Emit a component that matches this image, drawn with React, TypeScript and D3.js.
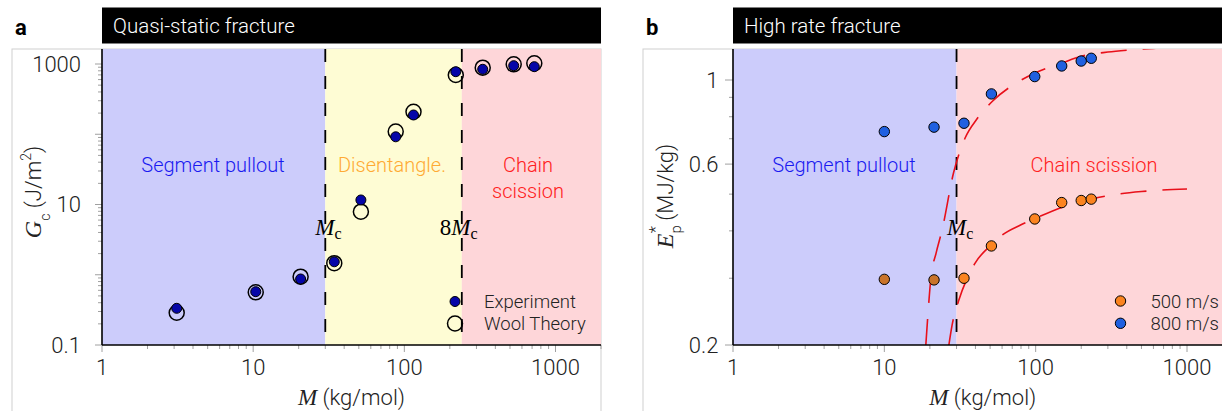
import React from 'react';
import * as d3 from 'd3';

// ---------- data ----------
const Mc = 30;
const regionBoundsA = [1, 30, 240, 2000];
const regionNamesA = ['Segment pullout', 'Disentangle.', 'Chain\nscission'];
const regionBoundsB = [1, 30, 2000];
const regionNamesB = ['Segment pullout', 'Chain scission'];

const massA = [3.12, 10.4, 20.6, 34.4, 51.6, 87.7, 115, 219, 330, 529, 724];
const gcExperiment = [0.333, 0.574, 0.87, 1.53, 11.6, 92, 188, 777, 841, 946, 916];
const gcWoolTheory = [0.288, 0.562, 0.938, 1.46, 7.9, 109, 209, 697, 886, 990, 1023];

const massB = [10, 21.3, 33.6, 51, 98.6, 148.6, 200, 233];
const ep500 = [0.298, 0.297, 0.3, 0.365, 0.43, 0.475, 0.481, 0.485];
const ep800 = [0.731, 0.751, 0.769, 0.919, 1.021, 1.089, 1.122, 1.141];

// fitted curves
const fit500M = [26.7, 28, 31, 35, 40, 51, 60, 80, 100, 150, 233, 350, 500, 1000];
const fit500E = [0.2, 0.225, 0.262, 0.298, 0.33, 0.368, 0.39, 0.415, 0.432, 0.462, 0.485, 0.5, 0.508, 0.516];
const fit800M = [18.8, 19.4, 20.3, 22, 24, 28.7, 34, 41, 52, 77, 100, 150, 200, 300, 420, 600, 1000];
const fit800E = [0.2, 0.24, 0.3, 0.35, 0.4, 0.57, 0.7, 0.79, 0.88, 0.99, 1.045, 1.11, 1.155, 1.185, 1.2, 1.212, 1.225];

const xTickLabels = [1, 10, 100, 1000];
const yTickLabelsA = [0.1, 10, 1000];
const yMajorA = [0.1, 1, 10, 100, 1000];
const yTickLabelsB = [0.2, 0.6, 1];

const legendA = ['Experiment', 'Wool Theory'];
const legendB = ['500 m/s', '800 m/s'];

// ---------- styles ----------
const SANS = 'Roboto, "Liberation Sans", Arial, sans-serif';
const LIGHT = 300;
const SERIF = '"Liberation Serif", "Times New Roman", serif';
const regionFillsA = ['#ccccfb', '#fefcd4', '#fed6d9'];
const regionFillsB = ['#ccccfb', '#fed6d9'];
const regionTextA = ['#1a1af0', '#ffaa33', '#ff2020'];
const regionTextB = ['#1a1af0', '#ff2020'];
const TICK = '#a0a0a0';
const FRAME = '#cfcfcf';
const ORANGE = '#fb8420';
const ORANGE_DARK = '#c9742a';
const BLUE = '#2060e0';
const NAVY = '#0505a8';
const RED = '#e8101a';

const W = 1222;
const H = 411;
const TOP = 49;
const BOTTOM = 345;

const fmt = (v: number) => String(v);

function XAxis({ x, x0, x1 }: { x: any; x0: number; x1: number }) {
  const ticks = d3.scaleLog().domain([1, 2000]).ticks();
  return (
    <g>
      {ticks.map((t, i) => {
        const major = xTickLabels.includes(t);
        return (
          <line key={i} x1={x(t)} x2={x(t)} y1={BOTTOM} y2={BOTTOM + (major ? 7 : 4)} stroke={TICK} strokeWidth={1} />
        );
      })}
      {xTickLabels.map((t, i) => (
        <text key={'l' + i} x={x(t)} y={375} textAnchor="middle" fontFamily={SANS} fontWeight={LIGHT} fontSize={22} fill="#222">
          {fmt(t)}
        </text>
      ))}
      <line x1={x0} x2={x1} y1={BOTTOM} y2={BOTTOM} stroke="#000" strokeWidth={1.6} />
    </g>
  );
}

export default function App() {
  const xA = d3.scaleLog().domain([1, 1000]).range([102, 555.5]);
  const yA = d3.scaleLog().domain([0.1, 1000]).range([BOTTOM, 64]);
  const xB = d3.scaleLog().domain([1, 1000]).range([733, 1187]);
  const yB = d3.scaleLog().domain([0.2, 1]).range([BOTTOM, 80]);

  const xA0 = xA(1), xA1 = xA(2000);
  const xB0 = xB(1), xB1 = xB(2000);

  const yTicksA = d3.scaleLog().domain([0.1, 1600]).ticks();
  const yTicksB = d3.scaleLog().domain([0.2, 1.2]).ticks();

  const line = (xs: any, ys: any) =>
    d3.line<[number, number]>().x(d => xs(d[0])).y(d => ys(d[1])).curve(d3.curveMonotoneX);

  const fit500: [number, number][] = fit500M.map((m, i) => [m, fit500E[i]]);
  const fit800: [number, number][] = fit800M.map((m, i) => [m, fit800E[i]]);

  const regionLabelPosA = [
    { y: [172] },
    { y: [172] },
    { y: [172, 198] },
  ];

  return (
    <svg width={W} height={H} style={{ position: 'absolute', left: 0, top: 0, background: '#fff' }}>
      <defs>
        <clipPath id="clipB">
          <rect x={xB0} y={TOP} width={xB1 - xB0} height={BOTTOM - TOP} />
        </clipPath>
      </defs>
      <rect x={0} y={0} width={W} height={H} fill="#fff" />

      {/* ================= Panel A ================= */}
      <rect x={12} y={TOP} width={xA1 - 12} height={H} fill="none" stroke={FRAME} strokeWidth={1} />
      {regionFillsA.map((f, i) => (
        <rect key={i} x={xA(regionBoundsA[i])} y={TOP} width={xA(regionBoundsA[i + 1]) - xA(regionBoundsA[i])} height={BOTTOM - TOP} fill={f} />
      ))}
      <rect x={xA0} y={7.5} width={xA1 - xA0} height={36} fill="#000" />
      <text x={113} y={33} fill="#fff" fontFamily={SANS} fontWeight={LIGHT} fontSize={20.5}>Quasi-static fracture</text>
      <text x={15} y={35} fontFamily={SANS} fontSize={22} fontWeight="bold">a</text>

      {regionNamesA.map((n, i) => {
        const cx = i === 0 ? 213 : i === 1 ? 392 : 528;
        return n.split('\n').map((s, j) => (
          <text key={i + '-' + j} x={cx} y={regionLabelPosA[i].y[j]} textAnchor="middle" fontFamily={SANS} fontWeight={LIGHT} fontSize={20} fill={regionTextA[i]}>
            {s}
          </text>
        ));
      })}

      {[regionBoundsA[1], regionBoundsA[2]].map((b, i) => (
        <line key={i} x1={xA(b)} x2={xA(b)} y1={TOP} y2={BOTTOM} stroke="#000" strokeWidth={1.8} strokeDasharray="13 14" />
      ))}
      <text x={xA(Mc) - 10} y={235} fontFamily={SERIF} fontSize={23}>
        <tspan fontStyle="italic">M</tspan>
        <tspan fontSize={16} dy={4}>c</tspan>
      </text>
      <text x={xA(Mc * 8) - 22} y={235} fontFamily={SERIF} fontSize={23}>
        8<tspan fontStyle="italic">M</tspan>
        <tspan fontSize={16} dy={4}>c</tspan>
      </text>

      {/* y axis A */}
      {yTicksA.map((t, i) => {
        const major = yMajorA.some(v => Math.abs(v - t) / v < 1e-6);
        return <line key={i} x1={xA0 - (major ? 7 : 4)} x2={xA0} y1={yA(t)} y2={yA(t)} stroke={TICK} strokeWidth={1} />;
      })}
      {yTickLabelsA.map((t, i) => (
        <text key={i} x={81} y={yA(t)} dy="0.36em" textAnchor="end" fontFamily={SANS} fontWeight={LIGHT} fontSize={22} fill="#222">{fmt(t)}</text>
      ))}
      <line x1={xA0} x2={xA0} y1={TOP} y2={BOTTOM} stroke="#000" strokeWidth={1.6} />
      <XAxis x={xA} x0={xA0} x1={xA1} />

      {/* points A */}
      {massA.map((m, i) => (
        <circle key={'w' + i} cx={xA(m)} cy={yA(gcWoolTheory[i])} r={7.5} fill="none" stroke="#000" strokeWidth={1.5} />
      ))}
      {massA.map((m, i) => (
        <circle key={'e' + i} cx={xA(m)} cy={yA(gcExperiment[i])} r={5} fill={NAVY} stroke="#000" strokeWidth={1} />
      ))}

      {/* legend A */}
      <circle cx={455} cy={301.5} r={5} fill={NAVY} stroke="#000" strokeWidth={1} />
      <circle cx={455} cy={323.5} r={7.5} fill="none" stroke="#000" strokeWidth={1.5} />
      {legendA.map((s, i) => (
        <text key={i} x={484} y={301.5 + i * 22} dy="0.36em" fontFamily={SANS} fontWeight={LIGHT} fontSize={18.5} fill="#222">{s}</text>
      ))}

      {/* axis labels A */}
      <text x={(xA0 + xA1) / 2} y={405} textAnchor="middle" fontFamily={SANS} fontWeight={LIGHT} fontSize={22} fill="#222">
        <tspan fontFamily={SERIF} fontStyle="italic" fontWeight="normal" fontSize={23}>M</tspan> (kg/mol)
      </text>
      <g transform={`translate(41, 192) rotate(-90)`}>
        <text x={0} y={0} textAnchor="middle" fontFamily={SANS} fontWeight={LIGHT} fontSize={22} fill="#222">
          <tspan fontFamily={SERIF} fontStyle="italic" fontWeight="normal" fontSize={24}>G</tspan>
          <tspan fontSize={14} dy={9}>c</tspan>
          <tspan dy={-9}> (J/m</tspan>
          <tspan fontSize={14} dy={-10}>2</tspan>
          <tspan dy={10}>)</tspan>
        </text>
      </g>

      {/* ================= Panel B ================= */}
      <rect x={643} y={TOP} width={W} height={H} fill="none" stroke={FRAME} strokeWidth={1} />
      {regionFillsB.map((f, i) => (
        <rect key={i} x={xB(regionBoundsB[i])} y={TOP} width={xB(regionBoundsB[i + 1]) - xB(regionBoundsB[i])} height={BOTTOM - TOP} fill={f} />
      ))}
      <rect x={xB0} y={7.5} width={xB1 - xB0} height={36} fill="#000" />
      <text x={744} y={33} fill="#fff" fontFamily={SANS} fontWeight={LIGHT} fontSize={20.5}>High rate fracture</text>
      <text x={646} y={35} fontFamily={SANS} fontSize={22} fontWeight="bold">b</text>

      {regionNamesB.map((n, i) => (
        <text key={i} x={i === 0 ? 844 : 1094} y={172} textAnchor="middle" fontFamily={SANS} fontWeight={LIGHT} fontSize={20} fill={regionTextB[i]}>{n}</text>
      ))}

      <line x1={xB(Mc)} x2={xB(Mc)} y1={TOP} y2={BOTTOM} stroke="#000" strokeWidth={1.8} strokeDasharray="13 14" />
      <text x={xB(Mc) - 9.5} y={235} fontFamily={SERIF} fontSize={23}>
        <tspan fontStyle="italic">M</tspan>
        <tspan fontSize={16} dy={4}>c</tspan>
      </text>

      <g clipPath="url(#clipB)">
        <path d={line(xB, yB)(fit500) || ''} fill="none" stroke={RED} strokeWidth={1.6} strokeDasharray="26 16" />
        <path d={line(xB, yB)(fit800) || ''} fill="none" stroke={RED} strokeWidth={1.6} strokeDasharray="26 16" />
      </g>

      {/* y axis B */}
      {yTicksB.map((t, i) => {
        const major = yTickLabelsB.some(v => Math.abs(v - t) < 1e-6);
        return <line key={i} x1={xB0 - (major ? 8 : 4)} x2={xB0} y1={yB(t)} y2={yB(t)} stroke={TICK} strokeWidth={1} />;
      })}
      {yTickLabelsB.map((t, i) => (
        <text key={i} x={718.5} y={yB(t)} dy="0.36em" textAnchor="end" fontFamily={SANS} fontWeight={LIGHT} fontSize={22} fill="#222">{fmt(t)}</text>
      ))}
      <line x1={xB0} x2={xB0} y1={TOP} y2={BOTTOM} stroke="#000" strokeWidth={1.6} />
      <XAxis x={xB} x0={xB0} x1={xB1} />

      {/* points B */}
      {massB.map((m, i) => (
        <circle key={'o' + i} cx={xB(m)} cy={yB(ep500[i])} r={5.2} fill={m < Mc ? ORANGE_DARK : ORANGE} stroke="#000" strokeWidth={1} />
      ))}
      {massB.map((m, i) => (
        <circle key={'b' + i} cx={xB(m)} cy={yB(ep800[i])} r={5.2} fill={BLUE} stroke="#000" strokeWidth={1} />
      ))}

      {/* legend B */}
      {legendB.map((s, i) => (
        <g key={i}>
          <circle cx={1120.5} cy={301 + i * 22.3} r={5.2} fill={i === 0 ? ORANGE : BLUE} stroke="#000" strokeWidth={1} />
          <text x={1150.5} y={301 + i * 22.3} dy="0.36em" fontFamily={SANS} fontWeight={LIGHT} fontSize={18.5} fill="#222">{s}</text>
        </g>
      ))}

      {/* axis labels B */}
      <text x={(xB0 + xB1) / 2} y={405} textAnchor="middle" fontFamily={SANS} fontWeight={LIGHT} fontSize={22} fill="#222">
        <tspan fontFamily={SERIF} fontStyle="italic" fontWeight="normal" fontSize={23}>M</tspan> (kg/mol)
      </text>
      <g transform={`translate(673, 196) rotate(-90)`}>
        <text x={0} y={0} textAnchor="middle" fontFamily={SANS} fontWeight={LIGHT} fontSize={22} fill="#222">
          <tspan fontFamily={SERIF} fontStyle="italic" fontWeight="normal" fontSize={24}>E</tspan>
          <tspan fontSize={15} dy={8}>p</tspan>
          <tspan fontSize={17} dx={-8} dy={-20}>*</tspan>
          <tspan dy={12}> (MJ/kg)</tspan>
        </text>
      </g>
    </svg>
  );
}
